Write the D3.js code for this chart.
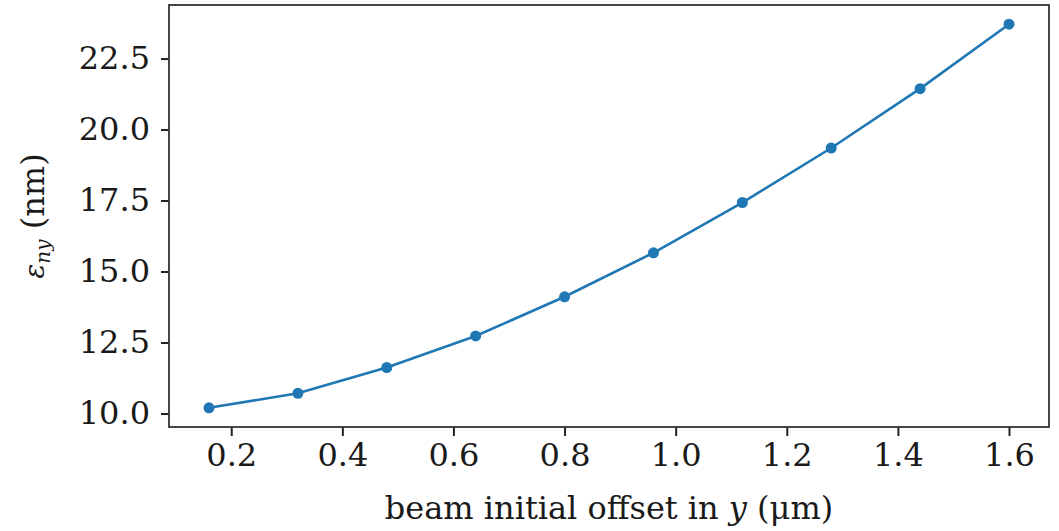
<!DOCTYPE html>
<html>
<head>
<meta charset="utf-8">
<script src="https://cdn.jsdelivr.net/npm/d3@7"></script>
<style>
  body { margin: 0; background: #fff; }
  text { font-family: "DejaVu Serif", serif; fill: #1a1a1a; }
</style>
</head>
<body>
<svg></svg>
<script>
// beam initial offset in y (um)
var offsets = [0.16, 0.32, 0.48, 0.64, 0.80, 0.96, 1.12, 1.28, 1.44, 1.60];
// normalized emittance eps_ny (nm)
var emittance = [10.20, 10.71, 11.62, 12.73, 14.11, 15.66, 17.43, 19.35, 21.44, 23.71];

var xTicks = [0.2, 0.4, 0.6, 0.8, 1.0, 1.2, 1.4, 1.6];
var yTicks = [10.0, 12.5, 15.0, 17.5, 20.0, 22.5];

var w = 1059;
var h = 531;
var margin = {left: 169, right: 10, top: 5, bottom: 104};
var color = "#1f77b4";

var svg = d3.select("svg")
    .attr("width", w)
    .attr("height", h);

// matplotlib style 5% padding around the data
var xPad = (d3.max(offsets) - d3.min(offsets)) * 0.05;
var yPad = (d3.max(emittance) - d3.min(emittance)) * 0.05;

var x = d3.scaleLinear()
    .domain([d3.min(offsets) - xPad, d3.max(offsets) + xPad])
    .range([margin.left, w - margin.right]);

var y = d3.scaleLinear()
    .domain([d3.min(emittance) - yPad, d3.max(emittance) + yPad])
    .range([h - margin.bottom, margin.top]);

var xAxis = svg.append("g")
    .attr("transform", "translate(0," + (h - margin.bottom) + ")")
    .call(d3.axisBottom(x).tickValues(xTicks).tickFormat(d3.format(".1f")).tickSize(9).tickPadding(7));

var yAxis = svg.append("g")
    .attr("transform", "translate(" + margin.left + ",0)")
    .call(d3.axisLeft(y).tickValues(yTicks).tickFormat(d3.format(".1f")).tickSize(8).tickPadding(11));

[xAxis, yAxis].forEach(function (g) {
    g.select(".domain").remove();
    g.selectAll(".tick line").attr("stroke", "#222").attr("stroke-width", 2);
    g.selectAll(".tick text")
        .attr("font-family", "DejaVu Serif")
        .attr("font-size", 32)
        .attr("fill", "#1a1a1a");
});

// frame
svg.append("rect")
    .attr("x", margin.left)
    .attr("y", margin.top)
    .attr("width", w - margin.left - margin.right)
    .attr("height", h - margin.top - margin.bottom)
    .attr("fill", "none")
    .attr("stroke", "#333")
    .attr("stroke-width", 1.8);

var pts = offsets.map(function (d, i) { return [d, emittance[i]]; });

svg.append("path")
    .datum(pts)
    .attr("fill", "none")
    .attr("stroke", color)
    .attr("stroke-width", 2.6)
    .attr("d", d3.line()
        .x(function (d) { return x(d[0]); })
        .y(function (d) { return y(d[1]); }));

svg.selectAll("circle")
    .data(pts)
    .enter()
    .append("circle")
    .attr("cx", function (d) { return x(d[0]); })
    .attr("cy", function (d) { return y(d[1]); })
    .attr("r", 5.5)
    .attr("fill", color);

// x label
var xl = svg.append("text")
    .attr("x", (margin.left + w - margin.right) / 2)
    .attr("y", 519)
    .attr("text-anchor", "middle")
    .attr("font-size", 32);
xl.append("tspan").text("beam initial offset in ");
xl.append("tspan").attr("font-style", "italic").text("y");
xl.append("tspan").text(" (μm)");

// y label
var yl = svg.append("text")
    .attr("transform", "translate(44," + ((margin.top + h - margin.bottom) / 2) + ") rotate(-90)")
    .attr("text-anchor", "middle")
    .attr("font-size", 32);
yl.append("tspan").attr("font-style", "italic").attr("font-size", 28).text("ε");
yl.append("tspan").attr("font-style", "italic").attr("font-size", 20).attr("dy", 6).text("ny");
yl.append("tspan").attr("dy", -6).text(" (nm)");
</script>
</body>
</html>
